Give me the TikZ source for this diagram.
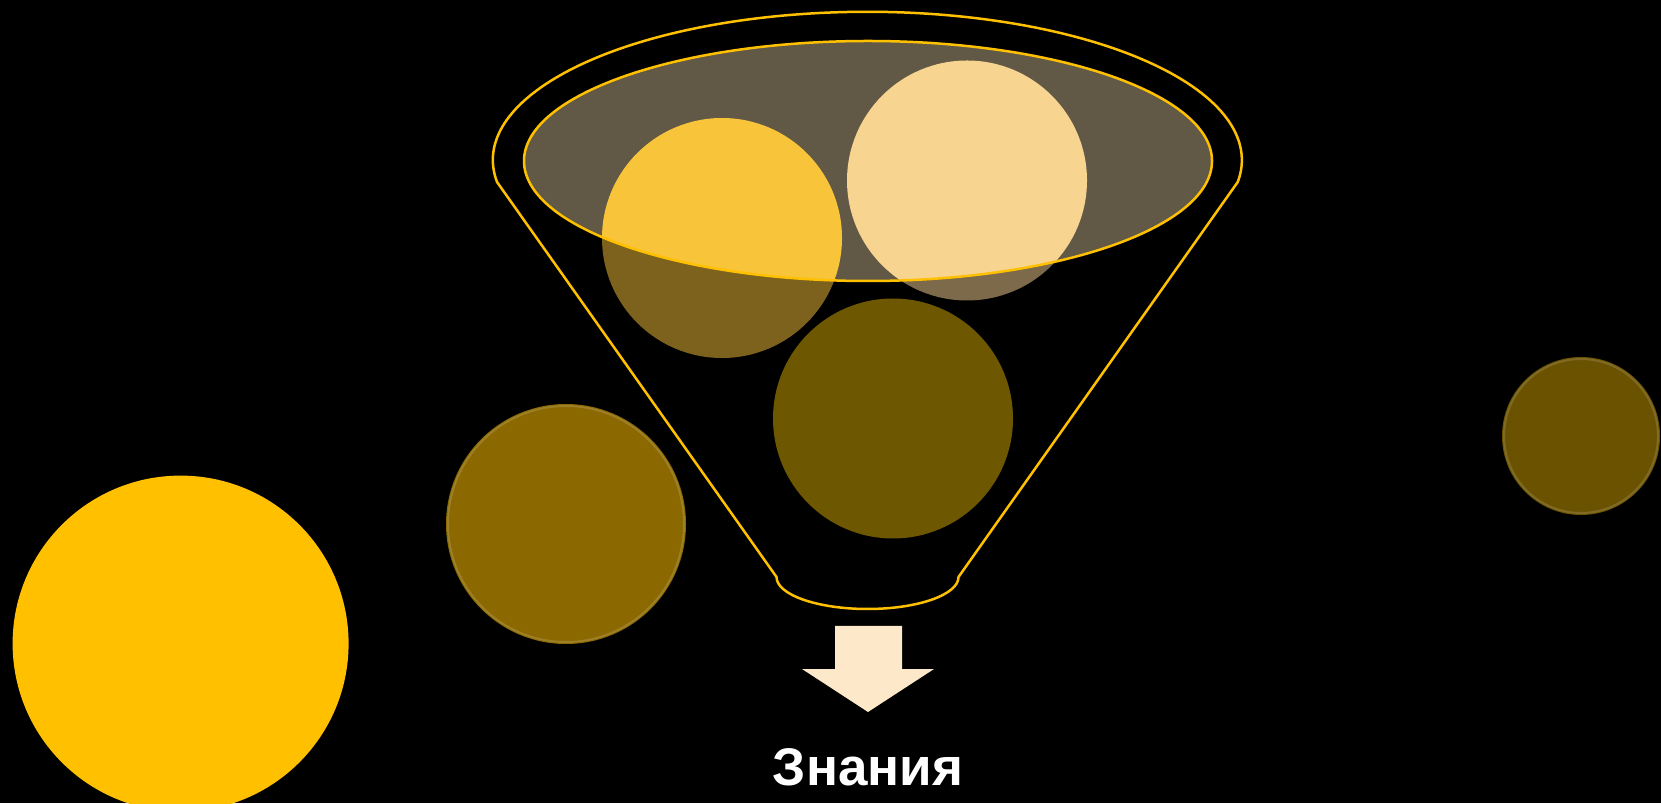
\documentclass[tikz,border=0pt]{standalone}
\usepackage{fontspec}
\setmainfont{Liberation Sans}
\usetikzlibrary{positioning}
\definecolor{gold}{HTML}{FFC000}
\definecolor{cupfill}{HTML}{615846}
\definecolor{ballA}{HTML}{F8C43A}
\definecolor{ballAdim}{HTML}{7D621E}
\definecolor{ballB}{HTML}{F7D48F}
\definecolor{ballBdim}{HTML}{7C6A4B}
\definecolor{ballC}{HTML}{6D5700}
\definecolor{bubL}{HTML}{8B6900}
\definecolor{bubR}{HTML}{6A5200}
\definecolor{arrowcol}{HTML}{FDE9C9}

\begin{document}
\begin{tikzpicture}[x=1pt,y=1pt,
  rim/.style={draw=gold,line width=2.5pt},
  glass/.style={line width=2pt,draw=white,draw opacity=.15}]
\fill[black] (0,0) rectangle (1661,803);
\useasboundingbox (0,0) rectangle (1661,803);

% loose balls
\fill[gold] (180.6,159.4) circle[radius=168];
\fill[bubL] (566,279) circle[radius=120];
\draw[glass] (566,279) circle[radius=118];
\fill[bubR] (1581,367) circle[radius=79];
\draw[glass] (1581,367) circle[radius=77];

% funnel outline
\draw[rim] (497,621) arc[start angle=188.5,end angle=-8.5,x radius=374.5,y radius=148.3]
  -- (958.5,226) arc[start angle=0,end angle=-180,x radius=91,y radius=32] -- cycle;

% balls in the funnel
\fill[ballAdim] (722,565) circle[radius=120];
\fill[ballBdim] (967,622.5) circle[radius=120];
\fill[ballC] (893,384.5) circle[radius=120];
\fill[cupfill] (868,642) ellipse[x radius=344,y radius=120];
\begin{scope}
  \clip (868,642) ellipse[x radius=344,y radius=120];
  \fill[ballA] (722,565) circle[radius=120];
  \fill[ballB] (967,622.5) circle[radius=120];
\end{scope}
\draw[rim] (868,642) ellipse[x radius=344,y radius=120];

% output
\fill[arrowcol] (835,177) -- (902,177) -- (902,134) -- (934,134) -- (868,91)
  -- (802,134) -- (835,134) -- cycle;
\node[anchor=base,text=white,font=\fontsize{53}{60}\selectfont\bfseries,inner sep=0pt]
  (know) at (868,18) {Знания};
\end{tikzpicture}
\end{document}
